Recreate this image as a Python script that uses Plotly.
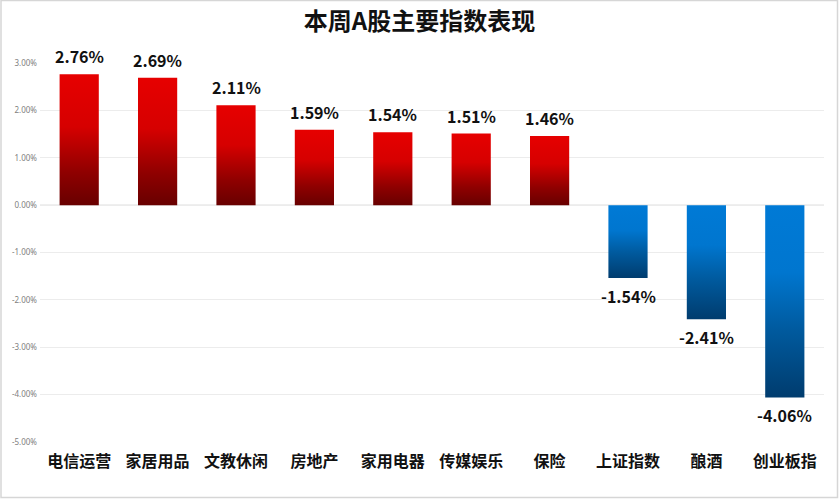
import plotly.graph_objects as go

categories = ["电信运营", "家居用品", "文教休闲", "房地产", "家用电器", "传媒娱乐", "保险", "上证指数", "酿酒", "创业板指"]
values = [2.76, 2.69, 2.11, 1.59, 1.54, 1.51, 1.46, -1.54, -2.41, -4.06]
y_ticks = [3, 2, 1, 0, -1, -2, -3, -4, -5]
title_text = "本周A股主要指数表现"

W, H = 839, 499
ML, MR, MT, MB = 40, 15, 63, 57
BAR_W = 0.5

red_scale = [[0, "#680000"], [0.25, "#8f0000"], [0.6, "#d60000"], [1, "#e60000"]]
blue_scale = [[0, "#003c6e"], [0.35, "#005a9e"], [0.65, "#0076cf"], [1, "#007ad6"]]

fig = go.Figure()
for i, (c, v) in enumerate(zip(categories, values)):
    x0, x1 = i - BAR_W / 2, i + BAR_W / 2
    lo, hi = min(0, v), max(0, v)
    scale = red_scale if v >= 0 else blue_scale
    fig.add_trace(go.Scatter(
        x=[x0, x1, x1, x0, x0], y=[lo, lo, hi, hi, lo],
        mode="lines", line=dict(width=0), fill="toself",
        fillgradient=dict(type="vertical", colorscale=scale, start=lo, stop=hi),
        hoverinfo="text", text=f"{c}: {v:.2f}%", showlegend=False,
    ))
    fig.add_annotation(
        x=i, y=v, xref="x", yref="y", text=f"<b>{v:.2f}%</b>", showarrow=False,
        yshift=18 if v >= 0 else -18, yanchor="middle",
        font=dict(family="Noto Sans CJK SC", size=16, color="#111111"),
    )

fig.add_shape(type="line", xref="paper", yref="y", x0=0, x1=1, y0=0, y1=0,
              line=dict(color="#d4d4d4", width=1), layer="below")
fig.add_shape(type="rect", xref="paper", yref="paper",
              x0=(1 - ML) / (W - ML - MR), x1=(837.5 - ML) / (W - ML - MR),
              y0=(H - MB - 497.5) / (H - MT - MB), y1=(H - MB - 0.5) / (H - MT - MB),
              line=dict(color="#d6d6d6", width=1.5))

fig.update_layout(
    width=W, height=H, margin=dict(l=ML, r=MR, t=MT, b=MB),
    paper_bgcolor="white", plot_bgcolor="white",
    title=dict(text=f"<b>{title_text}</b>", x=0.5, xanchor="center", y=1 - 22 / H, yanchor="middle",
               font=dict(family="Noto Sans CJK SC", size=24, color="#111111")),
    xaxis=dict(range=[-0.5, len(categories) - 0.5], tickvals=list(range(len(categories))),
               ticktext=[f"<b>{c}</b>" for c in categories], showgrid=False, zeroline=False,
               showline=False, ticks="", ticklabelstandoff=8,
               tickfont=dict(family="Noto Sans CJK SC", size=16, color="#111111"), fixedrange=True),
    yaxis=dict(range=[-5, 3], tickvals=y_ticks, ticktext=[f"{t:.2f}%" for t in y_ticks],
               showgrid=True, gridcolor="#ececec", gridwidth=1, zeroline=False, showline=False,
               ticks="", ticklabelstandoff=2,
               tickfont=dict(family="Noto Sans", size=8, color="#808080"), fixedrange=True),
)

fig.write_html("out.html")
